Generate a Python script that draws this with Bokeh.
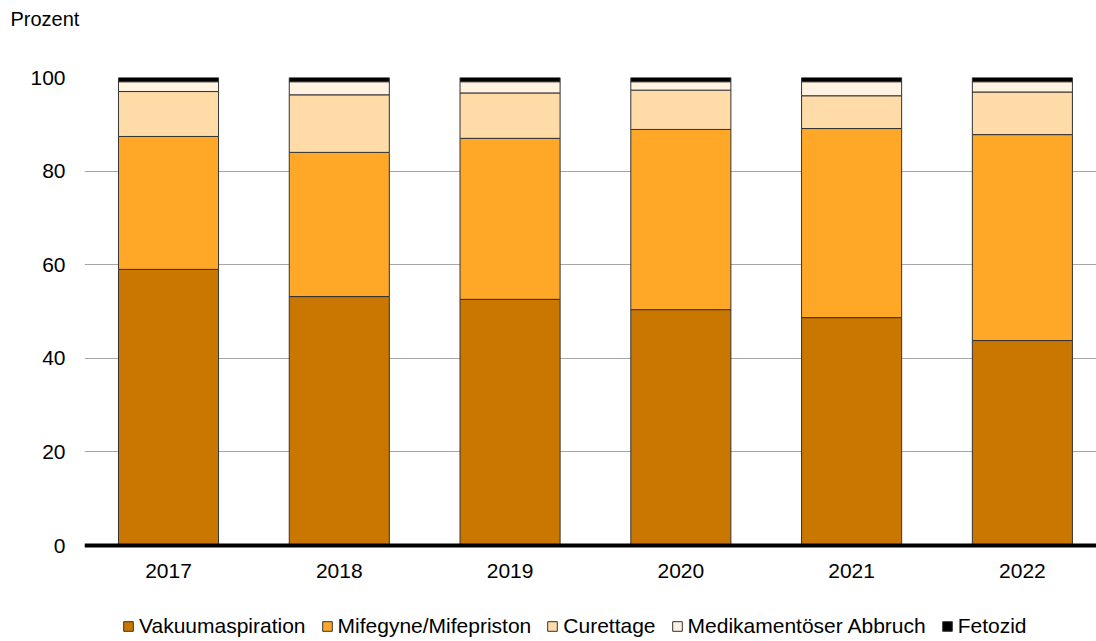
from bokeh.plotting import figure
from bokeh.models import Range1d, FixedTicker, Legend, LegendItem, Title, Span
from bokeh.core.properties import value
from bokeh.embed import file_html
from bokeh.resources import INLINE

years = [2017, 2018, 2019, 2020, 2021, 2022]
year_labels = ["2017", "2018", "2019", "2020", "2021", "2022"]
series_names = ["Vakuumaspiration", "Mifegyne/Mifepriston", "Curettage",
                "Medikamentöser Abbruch", "Fetozid"]
vakuum = [59.0, 53.2, 52.6, 50.4, 48.7, 43.8]
mife = [28.4, 30.8, 34.4, 38.5, 40.4, 44.0]
curettage = [9.6, 12.3, 9.7, 8.4, 7.0, 9.1]
medik = [2.1, 2.8, 2.4, 1.8, 3.0, 2.2]
fetozid = [0.9, 0.9, 0.9, 0.9, 0.9, 0.9]
y_ticks = [0, 20, 40, 60, 80, 100]

colors = ["#C97700", "#FFA726", "#FEDBA7", "#FFF2E1", "#000000"]
FONT = "Liberation Sans"
FS = "21px"

data = {"x": years, "s0": vakuum, "s1": mife, "s2": curettage, "s3": medik, "s4": fetozid}

p = figure(width=1096, height=641, output_backend="svg", toolbar_location=None,
           x_range=Range1d(2016.508, 2022.434), y_range=Range1d(-20.5, 100),
           min_border_left=84, min_border_right=0, min_border_top=77,
           min_border_bottom=0, outline_line_color=None)

renderers = p.vbar_stack(["s0", "s1", "s2", "s3", "s4"], x="x", width=0.586,
                         color=colors, line_color="#333333", line_width=1,
                         source=data)

# thick zero line acting as the category axis
p.add_layout(Span(location=0, dimension="width", line_color="#000000", line_width=4))

# year labels under the bars
p.text(x=years, y=[-5.5] * len(years), text=year_labels,
       text_font=value(FONT), text_font_size=value(FS), text_color="#000000",
       text_align="center", text_baseline="middle")

p.title = Title(text="Prozent", align="left", offset=-74, standoff=10,
                text_font=FONT, text_font_size="20px", text_font_style="normal",
                text_color="#000000")
# spacer between the title and the frame
p.add_layout(Title(text=" ", text_font_size="1px", standoff=40), "above")

p.xaxis.visible = False
p.xgrid.visible = False
p.ygrid.grid_line_color = "#A6A6A6"
p.ygrid.grid_line_width = 1
p.ygrid.ticker = FixedTicker(ticks=y_ticks)

p.yaxis.ticker = FixedTicker(ticks=y_ticks)
p.yaxis.axis_line_color = None
p.yaxis.major_tick_line_color = None
p.yaxis.minor_tick_line_color = None
p.yaxis.major_label_standoff = 13
p.yaxis.major_label_text_font = FONT
p.yaxis.major_label_text_font_size = FS
p.yaxis.major_label_text_color = "#000000"

items = [LegendItem(label=n, renderers=[r]) for n, r in zip(series_names, renderers)]
legend = Legend(items=items, orientation="horizontal", location=(38, 3),
                glyph_width=12, glyph_height=12, label_standoff=5, spacing=15,
                padding=0, margin=0, border_line_color=None, background_fill_alpha=0,
                label_text_font=FONT, label_text_font_size=FS,
                label_text_color="#000000")
p.add_layout(legend)

open("out.html", "w").write(file_html(p, INLINE))
